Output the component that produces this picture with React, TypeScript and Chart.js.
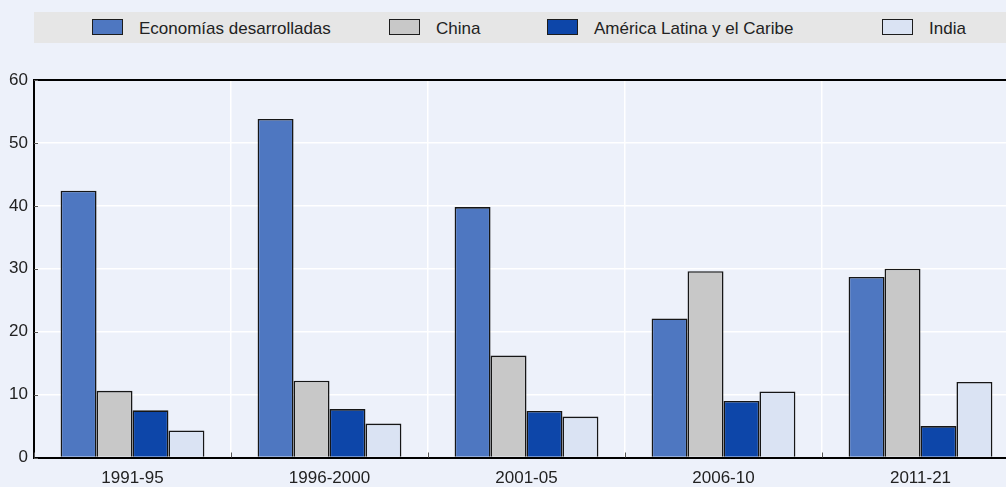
import React, { useEffect, useRef } from "react";
import { Chart, registerables } from "chart.js";

Chart.register(...registerables);

const categories = ["1991-95", "1996-2000", "2001-05", "2006-10", "2011-21"];
const seriesNames = ["Economías desarrolladas", "China", "América Latina y el Caribe", "India"];
const econ = [42.4, 53.8, 39.8, 22.1, 28.7];
const china = [10.6, 12.2, 16.2, 29.6, 30.0];
const latam = [7.5, 7.7, 7.4, 9.0, 5.0];
const india = [4.3, 5.4, 6.5, 10.5, 12.0];
const yTicks = [0, 10, 20, 30, 40, 50, 60];

const colors = ["#4e77c1", "#c8c8c8", "#0d46a9", "#dae3f3"];
const legendBoxX = [92, 389, 547, 882];
const FONT = "'Liberation Sans Narrow', 'Arial Narrow', 'Liberation Sans', Arial, sans-serif";
const BG = "#edf1fa";

const innerTicks = {
  id: "innerTicks",
  afterDatasetsDraw(chart: any) {
    const { ctx, chartArea, scales } = chart;
    const x = scales.x;
    const y = scales.y;
    ctx.save();
    ctx.strokeStyle = "#555";
    ctx.lineWidth = 1;
    const n = categories.length;
    for (let i = 0; i <= n; i++) {
      let px;
      if (i === 0) px = chartArea.left;
      else if (i === n) px = chartArea.right;
      else px = (x.getPixelForTick(i - 1) + x.getPixelForTick(i)) / 2;
      ctx.beginPath();
      ctx.moveTo(Math.round(px) + 0.5, chartArea.bottom);
      ctx.lineTo(Math.round(px) + 0.5, chartArea.bottom - 5);
      ctx.stroke();
    }
    yTicks.forEach((v) => {
      const py = y.getPixelForValue(v);
      ctx.beginPath();
      ctx.moveTo(chartArea.left, Math.round(py) + 0.5);
      ctx.lineTo(chartArea.left + 4, Math.round(py) + 0.5);
      ctx.stroke();
    });
    ctx.restore();
  },
};

export default function App() {
  const ref = useRef<HTMLCanvasElement | null>(null);

  useEffect(() => {
    if (!ref.current) return;
    const series = [econ, china, latam, india];
    const chart = new Chart(ref.current, {
      type: "bar",
      data: {
        labels: categories,
        datasets: series.map((d, i) => ({
          label: seriesNames[i],
          data: d,
          backgroundColor: colors[i],
          borderColor: "#161616",
          borderWidth: 1.6,
          categoryPercentage: 0.73,
          barPercentage: 1,
        })),
      },
      options: {
        animation: false,
        responsive: false,
        maintainAspectRatio: false,
        layout: { padding: { top: 80, left: 0, right: 21, bottom: 0 } },
        plugins: {
          legend: { display: false },
          tooltip: { enabled: false },
        },
        scales: {
          x: {
            offset: true,
            grid: {
              offset: true,
              color: "#ffffff",
              lineWidth: 1.5,
              drawTicks: false,
            },
            border: { color: "#000000", width: 2 },
            ticks: {
              color: "#222222",
              font: { family: FONT, size: 17 },
              padding: 11,
            },
            afterFit: (s: any) => {
              s.height = 29.5;
            },
          },
          y: {
            min: 0,
            max: 60,
            afterBuildTicks: (s: any) => {
              s.ticks = yTicks.map((v) => ({ value: v }));
            },
            grid: {
              color: (c: any) => (c.tick && c.tick.value === 60 ? "#000000" : "#ffffff"),
              lineWidth: (c: any) => (c.tick && c.tick.value === 60 ? 2 : 1.5),
              drawTicks: false,
            },
            border: { color: "#000000", width: 2 },
            ticks: {
              color: "#222222",
              font: { family: FONT, size: 17 },
              padding: 6,
            },
            afterFit: (s: any) => {
              s.width = 34;
            },
          },
        },
      },
      plugins: [innerTicks],
    });
    return () => chart.destroy();
  }, []);

  return (
    <div
      style={{
        position: "absolute",
        left: 0,
        top: 0,
        width: 1006,
        height: 487,
        overflow: "hidden",
        background: BG,
        fontFamily: FONT,
      }}
    >
      <div
        style={{
          position: "absolute",
          left: 34,
          top: 12,
          width: 972,
          height: 31,
          background: "#e6e6e6",
        }}
      />
      {seriesNames.map((name, i) => (
        <React.Fragment key={name}>
          <div
            style={{
              position: "absolute",
              left: legendBoxX[i],
              top: 19,
              width: 29,
              height: 14,
              background: colors[i],
              border: "1.5px solid #1c1c1c",
            }}
          />
          <div
            style={{
              position: "absolute",
              left: legendBoxX[i] + 47,
              top: 13,
              height: 31,
              lineHeight: "31px",
              fontSize: 17,
              color: "#222222",
              whiteSpace: "nowrap",
            }}
          >
            {name}
          </div>
        </React.Fragment>
      ))}
      <canvas
        ref={ref}
        width={1040}
        height={487}
        style={{ position: "absolute", left: 0, top: 0, width: 1040, height: 487 }}
      />
    </div>
  );
}
